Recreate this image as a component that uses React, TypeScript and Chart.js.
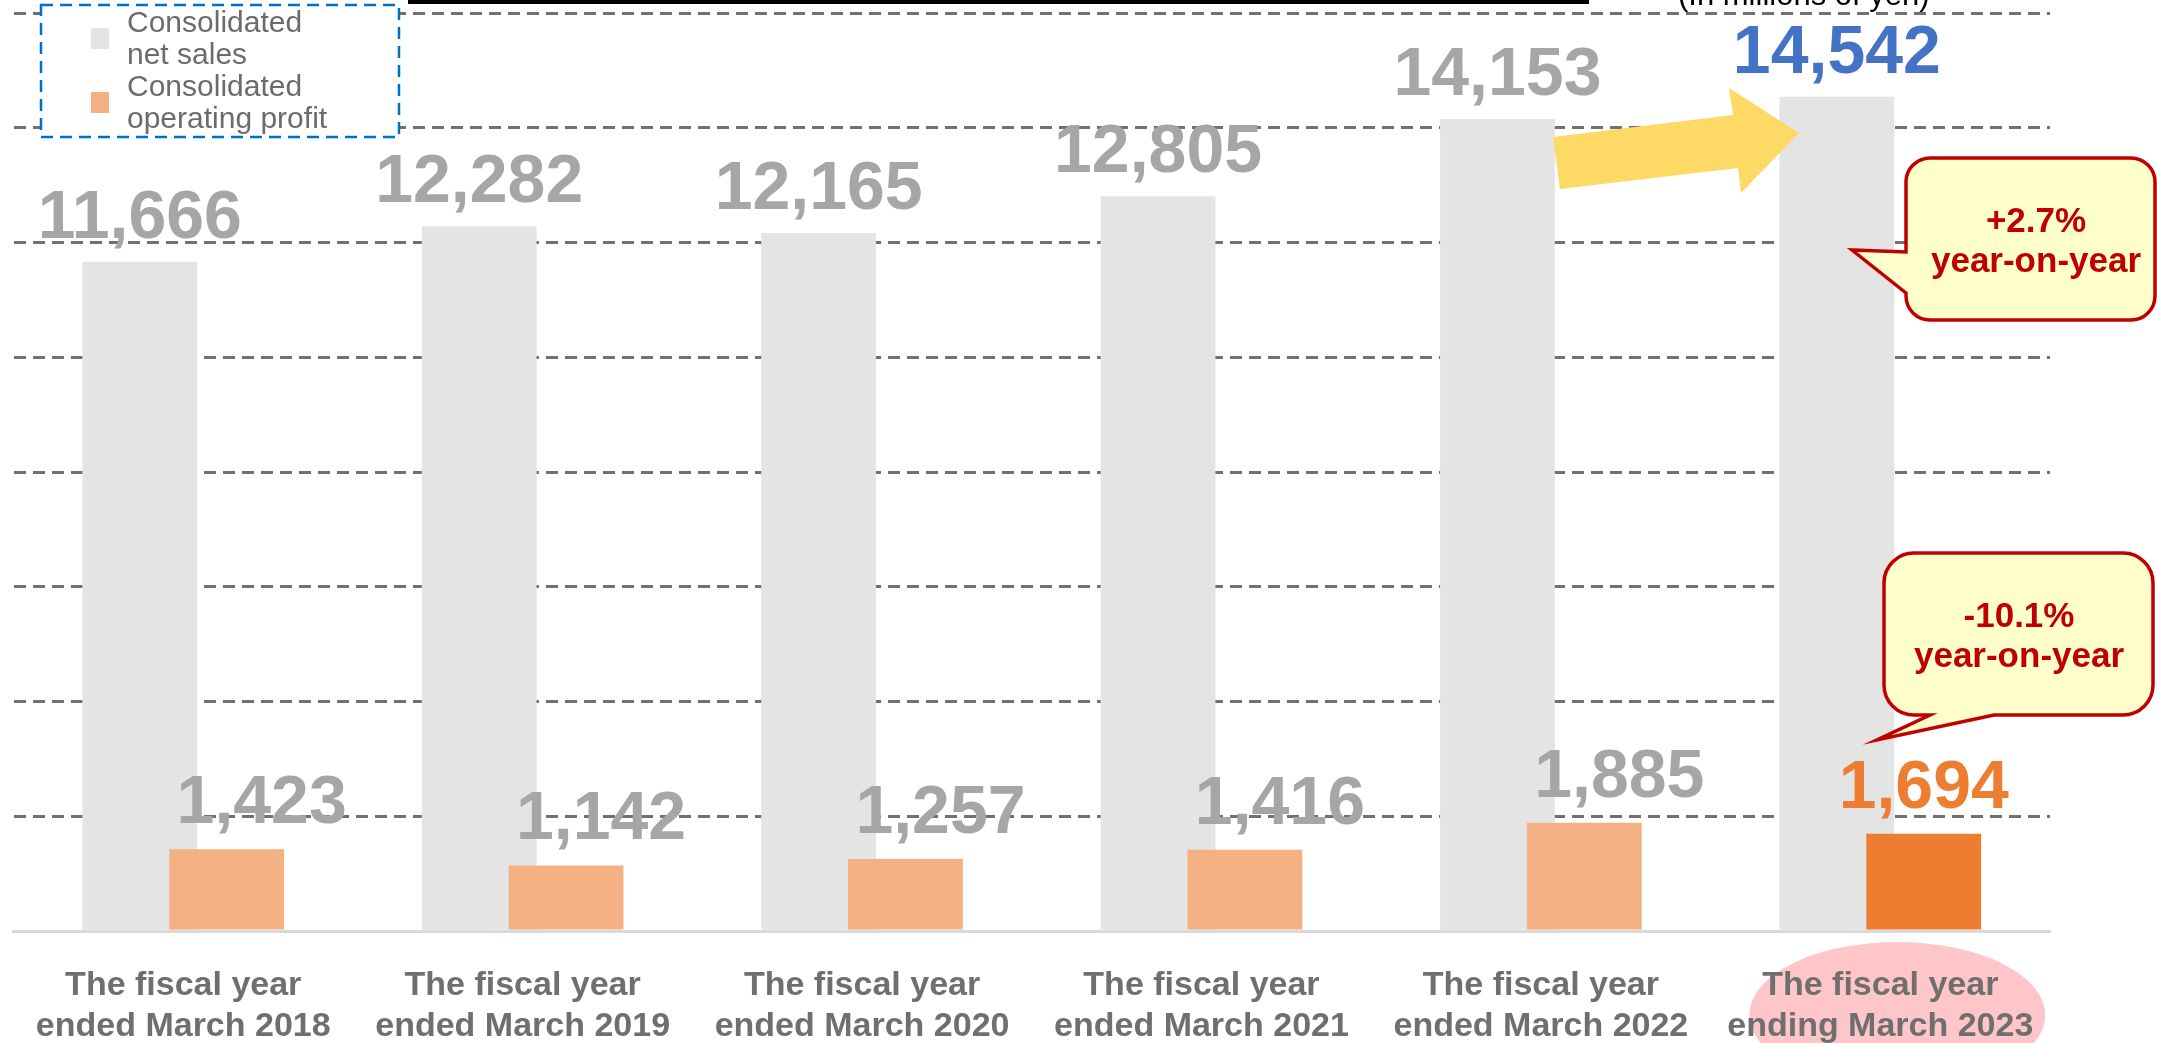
import React, { useEffect, useRef } from 'react';
import { Chart, registerables } from 'chart.js';

Chart.register(...registerables);

// ---------------- data ----------------
const categories: string[][] = [
  ['The fiscal year', 'ended March 2018'],
  ['The fiscal year', 'ended March 2019'],
  ['The fiscal year', 'ended March 2020'],
  ['The fiscal year', 'ended March 2021'],
  ['The fiscal year', 'ended March 2022'],
  ['The fiscal year', 'ending March 2023'],
];
const netSales = [11666, 12282, 12165, 12805, 14153, 14542];
const operatingProfit = [1423, 1142, 1257, 1416, 1885, 1694];
const yAxisMin = 0;
const yAxisMax = 16000;
const yAxisStep = 2000;
const seriesNames = ['Consolidated\nnet sales', 'Consolidated\noperating profit'];
const unitText = '(In millions of yen)';
const salesChangeText = ['+2.7%', 'year-on-year'];
const profitChangeText = ['-10.1%', 'year-on-year'];

// ---------------- styles ----------------
const FONT = '"Liberation Sans", Arial, Helvetica, sans-serif';
const GRAY = '#E4E4E4';
const ORANGE = '#F4B183';
const ORANGE_HI = '#ED7D31';
const LABEL_GRAY = '#A6A6A6';
const BLUE = '#4472C4';
const RED = '#C00000';
const lastIdx = netSales.length - 1;

const fmt = (n: number) => n.toLocaleString('en-US');

// draw the sales bars underneath the profit bars
const drawOrderPlugin = {
  id: 'drawOrder',
  beforeDatasetsDraw(chart: any) {
    chart.getDatasetMeta(0).controller.draw();
  },
  beforeDatasetDraw(chart: any, args: any) {
    if (args.index === 0) return false;
  },
};

const backgroundPlugin = {
  id: 'bgEllipse',
  beforeDraw(chart: any) {
    const { ctx } = chart;
    const xs = chart.scales.x;
    const cx = xs.getPixelForValue(lastIdx) + 17;
    ctx.save();
    ctx.fillStyle = '#FFC6C9';
    ctx.beginPath();
    ctx.ellipse(cx, 1015, 148, 73, 0, 0, Math.PI * 2);
    ctx.fill();
    ctx.restore();
  },
};

const valueLabelPlugin = {
  id: 'valueLabels',
  afterDatasetsDraw(chart: any) {
    const { ctx } = chart;
    ctx.save();
    ctx.font = `bold 68px ${FONT}`;
    ctx.textAlign = 'center';
    ctx.textBaseline = 'alphabetic';
    chart.getDatasetMeta(0).data.forEach((bar: any, i: number) => {
      ctx.fillStyle = i === lastIdx ? BLUE : LABEL_GRAY;
      ctx.fillText(fmt(netSales[i]), bar.x, bar.y - 24);
    });
    chart.getDatasetMeta(1).data.forEach((bar: any, i: number) => {
      ctx.fillStyle = i === lastIdx ? ORANGE_HI : LABEL_GRAY;
      ctx.fillText(fmt(operatingProfit[i]), bar.x + (i === lastIdx ? 0 : 35), bar.y - 26);
    });
    ctx.restore();
  },
};

function calloutPath(ctx: CanvasRenderingContext2D, x0: number, y0: number, x1: number, y1: number, r: number, tail: any) {
  ctx.beginPath();
  ctx.moveTo(x0 + r, y0);
  ctx.lineTo(x1 - r, y0);
  ctx.arcTo(x1, y0, x1, y0 + r, r);
  ctx.lineTo(x1, y1 - r);
  ctx.arcTo(x1, y1, x1 - r, y1, r);
  if (tail.side === 'bottom') {
    ctx.lineTo(tail.a, y1);
    ctx.lineTo(tail.tx, tail.ty);
    ctx.lineTo(tail.b, y1);
  }
  ctx.lineTo(x0 + r, y1);
  ctx.arcTo(x0, y1, x0, y1 - r, r);
  if (tail.side === 'left') {
    ctx.lineTo(x0, tail.b);
    ctx.lineTo(tail.tx, tail.ty);
    ctx.lineTo(x0, tail.a);
  }
  ctx.lineTo(x0, y0 + r);
  ctx.arcTo(x0, y0, x0 + r, y0, r);
  ctx.closePath();
}

const annotationPlugin = {
  id: 'annotations',
  afterDraw(chart: any) {
    const { ctx } = chart;
    ctx.save();

    // title underline (title itself lies above the visible area)
    ctx.fillStyle = '#000000';
    ctx.fillRect(408, 0, 1181, 4);
    ctx.font = `31px ${FONT}`;
    ctx.textAlign = 'left';
    ctx.textBaseline = 'alphabetic';
    ctx.fillText(unitText, 1678, 5);

    // yellow arrow
    ctx.fillStyle = '#FFD966';
    ctx.beginPath();
    ctx.moveTo(1553, 137);
    ctx.lineTo(1733, 115);
    ctx.lineTo(1729, 88);
    ctx.lineTo(1799, 133);
    ctx.lineTo(1741, 193);
    ctx.lineTo(1738, 168);
    ctx.lineTo(1560, 189);
    ctx.closePath();
    ctx.fill();

    // callouts
    const drawCallout = (box: number[], r: number, tail: any, lines: string[], cx: number, b1: number) => {
      calloutPath(ctx, box[0], box[1], box[2], box[3], r, tail);
      ctx.fillStyle = '#FFFFCC';
      ctx.fill();
      ctx.strokeStyle = RED;
      ctx.lineWidth = 3.5;
      ctx.lineJoin = 'miter';
      ctx.stroke();
      ctx.fillStyle = RED;
      ctx.font = `bold 35px ${FONT}`;
      ctx.textAlign = 'center';
      ctx.textBaseline = 'alphabetic';
      lines.forEach((t, i) => ctx.fillText(t, cx, b1 + i * 40));
    };
    drawCallout([1906, 158, 2155, 320], 24, { side: 'left', a: 252, b: 293, tx: 1852, ty: 250 }, salesChangeText, 2036, 232);
    drawCallout([1884, 553, 2153, 715], 30, { side: 'bottom', a: 1994, b: 1930, tx: 1877, ty: 740 }, profitChangeText, 2019, 627);

    // legend
    ctx.fillStyle = '#FFFFFF';
    ctx.fillRect(41, 5, 358, 132);
    ctx.setLineDash([12, 7]);
    ctx.strokeStyle = '#0070C0';
    ctx.lineWidth = 2.5;
    ctx.strokeRect(41, 5, 358, 132);
    ctx.setLineDash([]);
    const colors = [GRAY, ORANGE];
    ctx.font = `30px ${FONT}`;
    ctx.textAlign = 'left';
    seriesNames.forEach((name, i) => {
      const top = 13 + i * 64;
      ctx.fillStyle = colors[i];
      ctx.fillRect(91, top + 15, 18, 21);
      ctx.fillStyle = '#6B6B6B';
      name.split('\n').forEach((line, j) => ctx.fillText(line, 127, top + 19 + j * 32));
    });

    ctx.restore();
  },
};

export default function App() {
  const canvasRef = useRef<HTMLCanvasElement | null>(null);

  useEffect(() => {
    if (!canvasRef.current) return;
    const chart = new Chart(canvasRef.current, {
      type: 'bar',
      data: {
        labels: categories,
        datasets: [
          {
            label: seriesNames[0],
            data: netSales,
            backgroundColor: GRAY,
            borderWidth: 0,
            categoryPercentage: 0.5118,
            barPercentage: 1.3218,
          },
          {
            label: seriesNames[1],
            data: operatingProfit,
            backgroundColor: operatingProfit.map((_, i) => (i === lastIdx ? ORANGE_HI : ORANGE)),
            borderWidth: 0,
            categoryPercentage: 0.5118,
            barPercentage: 1.3218,
          },
        ],
      },
      options: {
        animation: false,
        responsive: true,
        maintainAspectRatio: false,
        devicePixelRatio: 1,
        layout: { padding: { left: 10, right: 107, top: 13, bottom: 0 } },
        plugins: {
          legend: { display: false },
          tooltip: { enabled: false },
          title: { display: false },
        },
        scales: {
          x: {
            grid: { display: false, drawTicks: false },
            border: { display: true, color: '#D9D9D9', width: 3 },
            ticks: {
              autoSkip: false,
              maxRotation: 0,
              minRotation: 0,
              padding: 35,
              color: '#6F6F6F',
              font: { family: FONT, size: 34, weight: 'bold', lineHeight: 1.18 },
            },
            afterFit(scale: any) {
              scale.height = 112;
            },
          },
          y: {
            min: yAxisMin,
            max: yAxisMax,
            stacked: false,
            ticks: { display: false, stepSize: yAxisStep },
            grid: {
              drawTicks: false,
              lineWidth: 3,
              color: (c: any) => (c.tick && c.tick.value === 0 ? 'rgba(0,0,0,0)' : '#707070'),
            },
            border: { display: false, dash: [12, 7] },
            afterFit(scale: any) {
              scale.width = 0;
            },
          },
        },
      },
      plugins: [backgroundPlugin, drawOrderPlugin, valueLabelPlugin, annotationPlugin],
    } as any);
    return () => chart.destroy();
  }, []);

  return (
    <div style={{ position: 'fixed', left: 0, top: 0, width: 2157, height: 1043, background: '#FFFFFF' }}>
      <canvas ref={canvasRef} />
    </div>
  );
}
